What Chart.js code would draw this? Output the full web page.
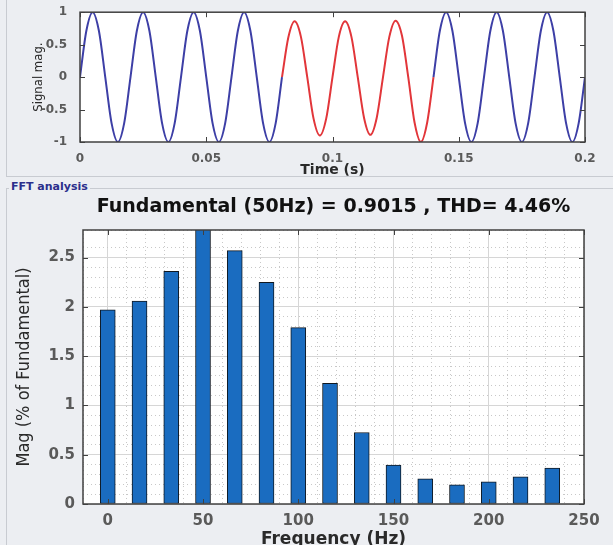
<!DOCTYPE html>
<html>
<head>
<meta charset="utf-8">
<script src="https://cdn.jsdelivr.net/npm/chart.js@4.4.0/dist/chart.umd.min.js"></script>
<style>
  html, body { margin: 0; padding: 0; width: 613px; height: 545px; overflow: hidden; background: #eceef2; }
  #sig { position: absolute; left: 0; top: 0; }
  #fft { position: absolute; left: 0; top: 192px; }
  .ln { position: absolute; background: #c8cbd1; }
  #grpLabel { position: absolute; left: 9px; top: 180px; font: bold 11px "DejaVu Sans", sans-serif; color: #2b2f8c; background: #eceef2; padding: 0 2px; }
</style>
</head>
<body>
<div class="ln" style="left:6px; top:0; width:1px; height:176px;"></div>
<div class="ln" style="left:6px; top:176px; width:607px; height:1px;"></div>
<div class="ln" style="left:6px; top:188px; width:607px; height:1px;"></div>
<div class="ln" style="left:6px; top:188px; width:1px; height:357px;"></div>
<div id="grpLabel">FFT analysis</div>
<canvas id="sig" width="613" height="184"></canvas>
<canvas id="fft" width="613" height="370"></canvas>
<script>
// ---- signal (top plot) ----
var times = [0, 0.0025, 0.005, 0.0075, 0.01, 0.0125, 0.015, 0.0175, 0.02, 0.0225, 0.025, 0.0275,
  0.03, 0.0325, 0.035, 0.0375, 0.04, 0.0425, 0.045, 0.0475, 0.05, 0.0525, 0.055, 0.0575,
  0.06, 0.0625, 0.065, 0.0675, 0.07, 0.0725, 0.075, 0.0775, 0.08, 0.0825, 0.085, 0.0875,
  0.09, 0.0925, 0.095, 0.0975, 0.1, 0.1025, 0.105, 0.1075, 0.11, 0.1125, 0.115, 0.1175,
  0.12, 0.1225, 0.125, 0.1275, 0.13, 0.1325, 0.135, 0.1375, 0.14, 0.1425, 0.145, 0.1475,
  0.15, 0.1525, 0.155, 0.1575, 0.16, 0.1625, 0.165, 0.1675, 0.17, 0.1725, 0.175, 0.1775,
  0.18, 0.1825, 0.185, 0.1875, 0.19, 0.1925, 0.195, 0.1975, 0.2];

var blueMag = [0, 0.71, 1, 0.71, 0, -0.71, -1, -0.71,
  0, 0.71, 1, 0.71, 0, -0.71, -1, -0.71,
  0, 0.71, 1, 0.71, 0, -0.71, -1, -0.71,
  0, 0.71, 1, 0.71, 0, -0.71, -1, -0.71,
  0,
  null, null, null, null, null, null, null, null, null, null, null, null,
  null, null, null, null, null, null, null, null, null, null, null,
  0, 0.71, 1, 0.71, 0, -0.71, -1, -0.71,
  0, 0.71, 1, 0.71, 0, -0.71, -1, -0.71,
  0, 0.71, 1, 0.71, 0, -0.71, -1, -0.71,
  0];

var redMag = [null, null, null, null, null, null, null, null, null, null, null, null, null, null, null, null,
  null, null, null, null, null, null, null, null, null, null, null, null, null, null, null, null,
  0, 0.61, 0.86, 0.62, 0, -0.64, -0.9, -0.64,
  0, 0.62, 0.86, 0.62, 0, -0.63, -0.89, -0.63,
  0, 0.62, 0.87, 0.64, 0, -0.7, -1, -0.7,
  0,
  null, null, null, null, null, null, null, null, null, null, null, null,
  null, null, null, null, null, null, null, null, null, null, null, null];

// ---- FFT (bottom plot) ----
var freqs = [0, 16.67, 33.33, 50, 66.67, 83.33, 100, 116.67, 133.33, 150, 166.67, 183.33, 200, 216.67, 233.33];
var mags = [1.97, 2.06, 2.36, 2.85, 2.57, 2.25, 1.79, 1.225, 0.725, 0.395, 0.255, 0.195, 0.225, 0.275, 0.365];
var fftTitle = 'Fundamental (50Hz) = 0.9015 , THD= 4.46%';

var narrow = '"DejaVu Sans Condensed", "Liberation Sans", sans-serif';

function pts(xs, ys) {
  var out = [];
  for (var i = 0; i < xs.length; i++) out.push({x: xs[i], y: ys[i]});
  return out;
}

function fmt(v) {
  return String(Math.round(v * 100) / 100);
}

var plotBg = {
  id: 'plotBg',
  beforeDraw: function(chart) {
    var a = chart.chartArea, ctx = chart.ctx;
    ctx.save();
    ctx.fillStyle = '#ffffff';
    ctx.fillRect(a.left, a.top, a.right - a.left, a.bottom - a.top);
    ctx.restore();
  }
};

// matlab style box with inward ticks
var axesBox = {
  id: 'axesBox',
  afterDatasetsDraw: function(chart) {
    var a = chart.chartArea, ctx = chart.ctx;
    var sx = chart.scales.x, sy = chart.scales.y;
    ctx.save();
    ctx.strokeStyle = '#404040';
    ctx.lineWidth = 1;
    ctx.beginPath();
    sx.ticks.forEach(function(t) {
      if (!t.label) return;
      var px = Math.round(sx.getPixelForValue(t.value)) + 0.5;
      ctx.moveTo(px, a.bottom); ctx.lineTo(px, a.bottom - 5);
      ctx.moveTo(px, a.top); ctx.lineTo(px, a.top + 5);
    });
    sy.ticks.forEach(function(t) {
      if (!t.label) return;
      var py = Math.round(sy.getPixelForValue(t.value)) + 0.5;
      ctx.moveTo(a.left, py); ctx.lineTo(a.left + 5, py);
      ctx.moveTo(a.right, py); ctx.lineTo(a.right - 5, py);
    });
    ctx.stroke();
    ctx.lineWidth = 1.5;
    ctx.strokeRect(a.left, a.top, a.right - a.left, a.bottom - a.top);
    ctx.restore();
  }
};

var plotTitle = {
  id: 'plotTitle',
  afterDraw: function(chart, args, opts) {
    if (!opts.text) return;
    var a = chart.chartArea, ctx = chart.ctx;
    ctx.save();
    ctx.font = 'bold 19px "DejaVu Sans", sans-serif';
    ctx.fillStyle = '#111111';
    ctx.textAlign = 'center';
    ctx.textBaseline = 'middle';
    ctx.fillText(opts.text, (a.left + a.right) / 2, opts.y);
    ctx.restore();
  }
};

var tickGray = '#5a5a5a';

new Chart(document.getElementById('sig'), {
  type: 'line',
  data: {
    datasets: [
      { data: pts(times, blueMag), borderColor: '#3d3fa6', borderWidth: 2, pointRadius: 0, cubicInterpolationMode: 'monotone', spanGaps: false },
      { data: pts(times, redMag), borderColor: '#e2363a', borderWidth: 2, pointRadius: 0, cubicInterpolationMode: 'monotone', spanGaps: false }
    ]
  },
  options: {
    responsive: false,
    animation: false,
    layout: { padding: { left: 0, right: 28, top: 12, bottom: 0 } },
    plugins: { legend: { display: false }, tooltip: { enabled: false } },
    scales: {
      x: {
        type: 'linear', min: 0, max: 0.2,
        ticks: { stepSize: 0.05, padding: 2, maxRotation: 0, color: tickGray, font: { family: 'DejaVu Sans', size: 12, weight: 'bold' }, callback: fmt },
        grid: { display: false },
        border: { display: false },
        title: { display: true, text: 'Time (s)', color: '#2a2a2a', padding: { top: 0, bottom: 5 }, font: { family: 'DejaVu Sans', size: 14, weight: 'bold' } },
        afterFit: function(s) { s.height = 42; }
      },
      y: {
        min: -1, max: 1,
        ticks: { stepSize: 0.5, padding: 5, color: tickGray, font: { family: 'DejaVu Sans', size: 12, weight: 'bold' }, callback: fmt },
        grid: { display: false },
        border: { display: false },
        title: { display: true, text: 'Signal mag.', color: '#2a2a2a', padding: { top: 31, bottom: 0 }, font: { family: narrow, size: 13 } },
        afterFit: function(s) { s.width = 80; }
      }
    }
  },
  plugins: [plotBg, axesBox]
});

function isMult(v, step) {
  return Math.abs(v / step - Math.round(v / step)) < 1e-6;
}

new Chart(document.getElementById('fft'), {
  type: 'bar',
  data: {
    datasets: [{
      data: pts(freqs, mags),
      backgroundColor: '#1a6cc0',
      borderColor: '#101820',
      borderWidth: 1,
      borderSkipped: false,
      barThickness: 15
    }]
  },
  options: {
    responsive: false,
    animation: false,
    layout: { padding: { left: 0, right: 29, top: 38, bottom: 0 } },
    plugins: {
      legend: { display: false },
      tooltip: { enabled: false },
      plotTitle: { text: fftTitle, y: 15 }
    },
    scales: {
      x: {
        type: 'linear', min: -13, max: 250, offset: false,
        ticks: {
          stepSize: 10, autoSkip: false, maxTicksLimit: 1000, padding: 8, maxRotation: 0,
          color: tickGray, font: { family: 'DejaVu Sans', size: 15, weight: 'bold' },
          callback: function(v) { return isMult(v, 50) ? String(Math.round(v)) : ''; }
        },
        grid: {
          drawTicks: false, offset: false,
          color: function(c) { return c.tick && isMult(c.tick.value, 50) ? '#d6d6d6' : '#c8c8c8'; }
        },
        border: { display: false, dash: function(c) { return c.tick && isMult(c.tick.value, 50) ? [] : [1, 3]; } },
        title: { display: true, text: 'Frequency (Hz)', color: '#2a2a2a', padding: { top: 0, bottom: 12 }, font: { family: 'DejaVu Sans', size: 17, weight: 'bold' } },
        afterFit: function(s) { s.height = 58; }
      },
      y: {
        min: 0, max: 2.78,
        ticks: {
          stepSize: 0.1, autoSkip: false, maxTicksLimit: 1000, padding: 8,
          color: tickGray, font: { family: 'DejaVu Sans', size: 15, weight: 'bold' },
          callback: function(v) { return isMult(v, 0.5) ? String(Math.round(v * 10) / 10) : ''; }
        },
        grid: {
          drawTicks: false,
          color: function(c) { return c.tick && isMult(c.tick.value, 0.5) ? '#d6d6d6' : '#c8c8c8'; }
        },
        border: { display: false, dash: function(c) { return c.tick && isMult(c.tick.value, 0.5) ? [] : [1, 3]; } },
        title: { display: true, text: 'Mag (% of Fundamental)', color: '#2a2a2a', padding: { top: 14, bottom: 0 }, font: { family: narrow, size: 18 } },
        afterFit: function(s) { s.width = 83; }
      }
    }
  },
  plugins: [plotBg, axesBox, plotTitle]
});
</script>
</body>
</html>
